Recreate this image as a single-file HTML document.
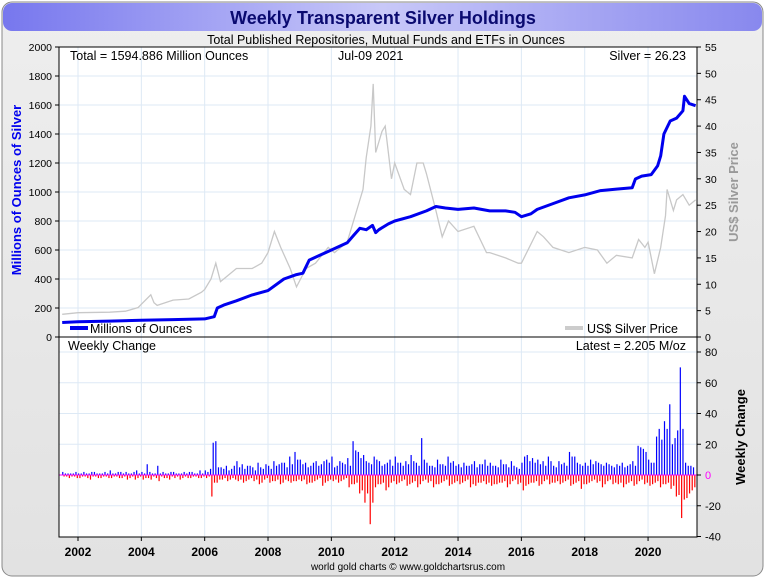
<!DOCTYPE html>
<html><head><meta charset="utf-8"><style>
body{margin:0;background:#fff;}
svg{display:block;font-family:"Liberation Sans",sans-serif;}
</style></head><body>
<svg id="chart" width="765" height="578" viewBox="0 0 765 578">
<defs>
<linearGradient id="tg" x1="0" x2="1" y1="0" y2="0"><stop offset="0" stop-color="#7777ee"/><stop offset="0.5" stop-color="#c8c8f8"/><stop offset="1" stop-color="#8888ee"/></linearGradient>
<linearGradient id="bg" x1="0" x2="0" y1="0" y2="1"><stop offset="0" stop-color="#eeeeee"/><stop offset="1" stop-color="#e2e2e2"/></linearGradient>
</defs>
<rect x="2" y="2" width="761" height="574" rx="10" fill="url(#bg)" stroke="#888"/>
<rect x="3" y="3" width="759" height="28" rx="9" fill="url(#tg)"/>
<text x="383" y="24" text-anchor="middle" font-size="18" font-weight="bold" fill="#0a0a70">Weekly Transparent Silver Holdings</text>
<text x="386" y="44" text-anchor="middle" font-size="12.5" fill="#000">Total Published Repositories, Mutual Funds and ETFs in Ounces</text>
<rect x="59" y="47" width="638" height="490" fill="#fff"/>
<g id="grid"></g>
<g id="marks"></g>
<g id="axes"></g>
<line x1="59" y1="337" x2="697" y2="337" stroke="#000"/>
<rect x="59" y="47" width="638" height="490" fill="none" stroke="#000"/>
<text x="70" y="60" font-size="12.5">Total = 1594.886 Million Ounces</text>
<text x="338" y="60" font-size="12.5">Jul-09  2021</text>
<text x="686" y="60" font-size="12.5" text-anchor="end">Silver = 26.23</text>
<line x1="70" y1="328" x2="88" y2="328" stroke="#0000ee" stroke-width="4"/>
<text x="90" y="333" font-size="12.5">Millions of Ounces</text>
<line x1="565" y1="328" x2="583" y2="328" stroke="#cccccc" stroke-width="4"/>
<text x="587" y="333" font-size="12.5">US$ Silver Price</text>
<text x="68" y="350" font-size="12.5">Weekly Change</text>
<text x="686" y="350" font-size="12.5" text-anchor="end">Latest = 2.205 M/oz</text>
<text transform="translate(21,190) rotate(-90)" text-anchor="middle" font-size="13" font-weight="bold" fill="#0000ee">Millions of Ounces of Silver</text>
<text transform="translate(738,192) rotate(-90)" text-anchor="middle" font-size="13" font-weight="bold" fill="#999">US$ Silver Price</text>
<text transform="translate(745,437) rotate(-90)" text-anchor="middle" font-size="13" font-weight="bold" fill="#000">Weekly Change</text>
<text x="408" y="570" text-anchor="middle" font-size="10">world gold charts © www.goldchartsrus.com</text>
</svg>
<script>
const holdYears=[2001.5,2002,2003,2004,2005,2006,2006.3,2006.4,2006.6,2007,2007.5,2008,2008.5,2008.9,2009.1,2009.3,2009.6,2010,2010.5,2010.7,2010.9,2011.1,2011.3,2011.4,2011.5,2011.8,2012,2012.5,2013,2013.3,2013.6,2014,2014.5,2015,2015.5,2015.8,2016,2016.3,2016.5,2017,2017.5,2018,2018.5,2019,2019.5,2019.6,2019.8,2020.1,2020.3,2020.4,2020.5,2020.7,2020.9,2021.1,2021.15,2021.3,2021.5];
const holdValues=[100,105,110,115,120,125,140,200,220,250,290,320,400,430,440,530,560,600,650,700,750,740,770,720,740,780,800,830,870,900,890,880,890,870,870,860,830,850,880,920,960,980,1010,1020,1030,1090,1110,1120,1180,1250,1400,1490,1510,1560,1660,1610,1595];
const priceYears=[2001.5,2002,2003,2003.5,2003.9,2004,2004.3,2004.4,2004.5,2005,2005.5,2005.9,2006,2006.2,2006.35,2006.5,2006.6,2007,2007.5,2007.8,2008,2008.2,2008.4,2008.7,2008.9,2009.2,2009.5,2009.9,2010.1,2010.5,2010.8,2011,2011.1,2011.25,2011.32,2011.4,2011.6,2011.7,2011.9,2012,2012.3,2012.5,2012.7,2012.9,2013,2013.3,2013.5,2013.7,2014,2014.5,2014.9,2015,2015.5,2015.9,2016,2016.5,2016.7,2017,2017.5,2018,2018.4,2018.7,2019,2019.5,2019.7,2019.9,2020,2020.2,2020.4,2020.55,2020.6,2020.8,2020.9,2021.1,2021.3,2021.5];
const priceValues=[4.3,4.6,4.7,4.9,5.6,6.2,8,6.5,6,7,7.2,8.5,9,11,14,10.5,11,13,13,14,16,20,17,13,9.5,13,14,17,16,18,24,28,34,40,48,35,39,40,30,33,28,27,33,33,31,24,19,22,20,21,16,16,15,14,14,20,19,17,16,17,16.5,14,15.5,15,18.5,17,18,12,17,23,28,24,26,27,25,26];
const changeStartYear=2001.5;
const posChanges=[2,1,1, 1,2,1,2,1,2, 3,1,2,2,1,3, 2,7,1,6,2,1, 2,1,2,2,1,3, 3,4,22,5,6,4, 9,7,6,5,8,4, 6,9,7,8,12,15, 10,8,6,9,7,10, 12,6,8,11,22,15, 13,8,12,9,7,10, 12,8,9,13,8,24, 8,6,10,7,12,9, 7,8,6,9,7,10, 8,6,10,7,9,5, 8,13,11,10,9,12, 6,9,8,15,12,7, 8,10,9,7,8,6, 7,8,6,9,19,17, 10,8,30,35,46,24, 70,8,6];
const negChanges=[1,2,1, 2,1,3,1,2,1, 2,1,2,3,1,2, 3,2,1,4,2,3, 2,3,1,2,1,2, 2,14,5,3,4,2, 4,5,3,4,6,3, 5,4,6,3,5,4, 4,6,5,3,7,4, 4,5,3,8,6,12, 18,32,8,6,10,5, 6,4,7,5,8,4, 5,8,6,4,7,5, 6,4,8,7,5,6, 7,6,5,8,4,6, 10,6,5,7,4,6, 5,6,4,7,5,9, 6,4,5,8,4,6, 6,8,5,7,4,6, 7,5,8,6,9,14, 28,15,10];
const posChanges2=[1,1,2, 1,1,2,1,1,1, 1,2,1,1,2,1, 1,2,1,1,1,2, 1,1,1,2,1,1, 2,21,5,4,3,6, 5,4,6,3,5,7, 4,6,8,5,7,10, 7,5,8,6,9,8, 5,9,7,6,16,11, 9,7,10,6,8,6, 8,6,7,9,6,10, 6,5,7,6,8,6, 5,6,7,5,7,6, 6,5,7,5,6,4, 12,9,8,7,6,9, 5,7,6,12,8,6, 6,7,8,6,7,5, 6,5,7,6,18,15, 8,25,23,30,20,29, 30,6,5];
const negChanges2=[1,1,2, 1,2,1,2,1,2, 1,2,1,2,3,1, 2,3,2,1,2,1, 1,2,2,1,2,1, 1,5,3,2,3,3, 3,4,2,3,5,2, 4,3,5,4,4,3, 3,5,4,2,5,3, 3,4,2,6,5,10, 12,18,6,5,8,4, 5,3,6,4,6,3, 4,6,5,3,6,4, 5,3,6,5,4,5, 6,5,4,6,3,5, 7,5,4,6,3,5, 4,5,3,6,4,6, 5,3,4,6,3,5, 5,6,4,6,3,5, 6,4,6,5,7,13, 16,12,8];
const leftTicks=[0,200,400,600,800,1000,1200,1400,1600,1800,2000];
const rightTicks=[0,5,10,15,20,25,30,35,40,45,50,55];
const changeTicks=[-40,-20,0,20,40,60,80];
const yearTicks=[2002,2004,2006,2008,2010,2012,2014,2016,2018,2020];

const NS="http://www.w3.org/2000/svg";
const xS=y=>78+(y-2002)*31.67;
const yHold=v=>337-v*0.145;
const yPrice=v=>337-v*290/55;
const yChg=v=>475-v*123/80;
function mk(tag,attrs,parent,txt){const e=document.createElementNS(NS,tag);for(const k in attrs)e.setAttribute(k,attrs[k]);if(txt!==undefined)e.textContent=txt;parent.appendChild(e);return e;}
const grid=document.getElementById('grid'),marks=document.getElementById('marks'),axes=document.getElementById('axes');

yearTicks.forEach(y=>{
  const g=mk('line',{x1:xS(y),x2:xS(y),y1:47,y2:537,stroke:'#dde9f5'},grid);
  
  
  const t=mk('text',{x:xS(y),y:556,'text-anchor':'middle','font-size':12,'font-weight':'bold'},axes,String(y));
  
  
  const tk=mk('line',{x1:xS(y),x2:xS(y),y1:537,y2:541,stroke:'#000'},axes);
  
  
});
leftTicks.forEach(v=>{
  const y=yHold(v);
  if(v>0&&v<2000){const g=mk('line',{x1:59,x2:697,y1:y,y2:y,stroke:'#dde9f5'},grid);
  
  }
  const t=mk('text',{x:52,y:y+4,'text-anchor':'end','font-size':10.5},axes,String(v));
  
  
  mk('line',{x1:55,x2:59,y1:y,y2:y,stroke:'#000'},axes);
});
rightTicks.forEach(v=>{
  const y=yPrice(v);
  const t=mk('text',{x:705,y:y+4,'font-size':10.5},axes,String(v));
  
  
  mk('line',{x1:697,x2:701,y1:y,y2:y,stroke:'#000'},axes);
});
changeTicks.forEach(v=>{
  const y=yChg(v);
  if(v!==0&&v>-40){const g=mk('line',{x1:59,x2:697,y1:y,y2:y,stroke:'#dde9f5'},grid);
  
  }
  const t=mk('text',{x:705,y:y+4,'font-size':11,fill:v===0?'#ff00ff':'#000'},axes,String(v));
  
  
  mk('line',{x1:697,x2:701,y1:y,y2:y,stroke:'#000'},axes);
});

const pricePts=priceYears.map((y,i)=>xS(y).toFixed(1)+','+yPrice(priceValues[i]).toFixed(1)).join(' ');
const pl=mk('polyline',{points:pricePts,fill:'none',stroke:'#c8c8c8','stroke-width':1.3},marks);


const holdPts=holdYears.map((y,i)=>xS(y).toFixed(1)+','+yHold(holdValues[i]).toFixed(1)).join(' ');
const hl=mk('polyline',{points:holdPts,fill:'none',stroke:'#0000ee','stroke-width':3,'stroke-linejoin':'round'},marks);



const step=1/6;
function bars(arr,offset,sign,color){
  arr.forEach((v,i)=>{
    const x=xS(changeStartYear+i*step+offset);
    const y0=yChg(0),y1=yChg(sign*v);
    const b=mk('rect',{x:x,y:Math.min(y0,y1),width:1.2,height:Math.abs(y1-y0),fill:color},marks);
    
    
  });
}
bars(posChanges,0,1,'#0000ff');
bars(negChanges,step/4,-1,'#ff0000');
bars(posChanges2,step/2,1,'#0000ff');
bars(negChanges2,3*step/4,-1,'#ff0000');
const z=mk('line',{x1:59,x2:697,y1:yChg(0),y2:yChg(0),stroke:'#ff00ff','stroke-width':1},marks);


</script>
</body></html>
